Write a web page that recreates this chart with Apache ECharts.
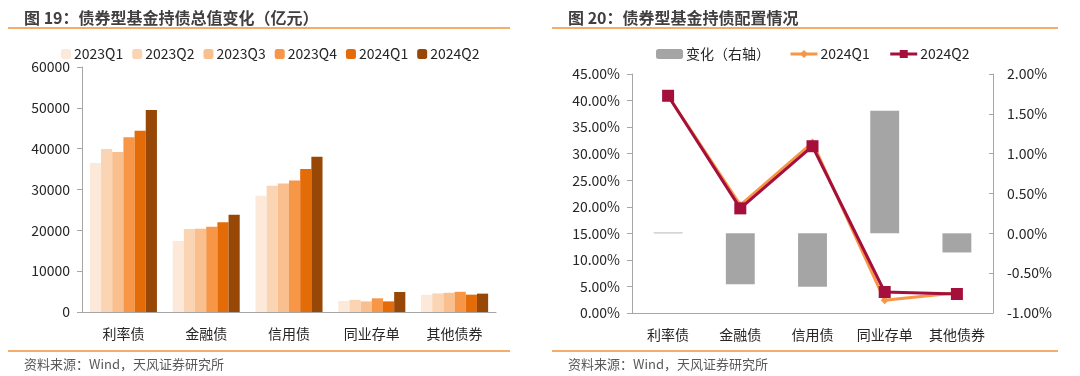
<!DOCTYPE html>
<html>
<head>
<meta charset="utf-8">
<script src="https://cdn.jsdelivr.net/npm/echarts@6/dist/echarts.min.js"></script>
<style>
  html, body { margin: 0; padding: 0; background: #fff; }
  #main { width: 1080px; height: 376px; }
</style>
</head>
<body>
<div id="main"></div>
<script>
// ========================================
// DATA
// ========================================

var categories = ['利率债', '金融债', '信用债', '同业存单', '其他债券'];

// 图19：持债总值（亿元）
var quarterNames = ['2023Q1', '2023Q2', '2023Q3', '2023Q4', '2024Q1', '2024Q2'];
var hold2023Q1 = [36500, 17400, 28500, 2700, 4200];
var hold2023Q2 = [39900, 20300, 30900, 3000, 4550];
var hold2023Q3 = [39200, 20400, 31500, 2600, 4700];
var hold2023Q4 = [42800, 20900, 32200, 3350, 4950];
var hold2024Q1 = [44400, 22000, 35000, 2600, 4250];
var hold2024Q2 = [49500, 23800, 38000, 4900, 4500];

// 图20：配置占比（%）
var share2024Q1 = [40.9, 20.3, 32.1, 2.4, 3.8];
var share2024Q2 = [40.9, 19.7, 31.4, 3.95, 3.58];
var shareChange = [0.01, -0.64, -0.67, 1.54, -0.24];

var leftTicks = { min: 0, max: 60000, interval: 10000 };
var shareTicks = { min: 0, max: 45, interval: 5 };
var changeTicks = { min: -1, max: 2, interval: 0.5 };

// ========================================
// STYLE
// ========================================

var FONT = '"Noto Sans CJK SC", "Noto Sans", sans-serif';
var quarterColors = ['#FDE9D9', '#FBD4B4', '#FABF8F', '#F79646', '#E36C09', '#974806'];
var axisGray = '#A6A6A6';
var textDark = '#262626';

var holdSeries = [hold2023Q1, hold2023Q2, hold2023Q3, hold2023Q4, hold2024Q1, hold2024Q2];

// the right chart's line series share names with the left bars, so they
// carry a trailing space to keep the two legends apart
var lineQ1Name = '2024Q1 ';
var lineQ2Name = '2024Q2 ';

function sepLine(x1, x2, y) {
  return {
    type: 'line',
    shape: { x1: x1, y1: y, x2: x2, y2: y },
    style: { stroke: '#F0923A', lineWidth: 1.5 },
    silent: true
  };
}

function pctLabel(v) {
  return v.toFixed(2) + '%';
}

var chart = echarts.init(document.getElementById('main'));

chart.setOption({
  animation: false,
  textStyle: { fontFamily: FONT },
  title: [
    { text: '图 19：债券型基金持债总值变化（亿元）', left: 19, top: 5,
      textStyle: { fontFamily: FONT, fontSize: 16, fontWeight: 'bold', color: '#404040' } },
    { text: '图 20：债券型基金持债配置情况', left: 563, top: 5,
      textStyle: { fontFamily: FONT, fontSize: 16, fontWeight: 'bold', color: '#404040' } },
    { text: '资料来源：Wind，天风证券研究所', left: 19, top: 353,
      textStyle: { fontFamily: FONT, fontSize: 13, fontWeight: 'normal', color: '#595959' } },
    { text: '资料来源：Wind，天风证券研究所', left: 563, top: 353,
      textStyle: { fontFamily: FONT, fontSize: 13, fontWeight: 'normal', color: '#595959' } }
  ],
  graphic: [
    sepLine(8, 510, 28),
    sepLine(552, 1058, 28),
    sepLine(8, 510, 351),
    sepLine(552, 1058, 351)
  ],
  legend: [
    {
      data: quarterNames,
      left: 56, top: 42,
      itemWidth: 10, itemHeight: 10, itemGap: 9,
      textStyle: { fontFamily: FONT, fontSize: 14, color: textDark, padding: [0, 0, 0, -2] }
    },
    {
      data: ['变化（右轴）', lineQ1Name, lineQ2Name],
      left: 651, top: 42,
      itemWidth: 27, itemHeight: 10, itemGap: 19,
      lineStyle: { width: 3 },
      formatter: function (n) { return n.trim(); },
      textStyle: { fontFamily: FONT, fontSize: 14, color: textDark, padding: [0, 0, 0, -2] }
    }
  ],
  grid: [
    { left: 82, top: 67, width: 414, height: 245 },
    { left: 632, top: 74, width: 361, height: 239 }
  ],
  xAxis: [
    {
      type: 'category', gridIndex: 0, data: categories,
      axisLine: { lineStyle: { color: axisGray } },
      axisTick: { lineStyle: { color: axisGray }, length: 5 },
      axisLabel: { fontFamily: FONT, fontSize: 14, color: textDark, margin: 15, interval: 0 }
    },
    {
      type: 'category', gridIndex: 1, data: categories,
      axisLine: { onZero: false, lineStyle: { color: axisGray } },
      axisTick: { lineStyle: { color: axisGray }, length: 5 },
      axisLabel: { fontFamily: FONT, fontSize: 14, color: textDark, margin: 15, interval: 0 }
    }
  ],
  yAxis: [
    {
      type: 'value', gridIndex: 0,
      min: leftTicks.min, max: leftTicks.max, interval: leftTicks.interval,
      splitLine: { show: false },
      axisLine: { show: true, lineStyle: { color: axisGray } },
      axisTick: { show: true, length: 5, lineStyle: { color: axisGray } },
      axisLabel: { fontFamily: FONT, fontSize: 14, color: textDark, margin: 12,
        formatter: function (v) { return String(v); } }
    },
    {
      type: 'value', gridIndex: 1, position: 'left',
      min: shareTicks.min, max: shareTicks.max, interval: shareTicks.interval,
      splitLine: { show: false },
      axisLine: { show: true, lineStyle: { color: axisGray } },
      axisTick: { show: true, length: 5, lineStyle: { color: axisGray } },
      axisLabel: { fontFamily: FONT, fontSize: 14, color: textDark, margin: 12, formatter: pctLabel }
    },
    {
      type: 'value', gridIndex: 1, position: 'right',
      min: changeTicks.min, max: changeTicks.max, interval: changeTicks.interval,
      splitLine: { show: false },
      axisLine: { show: true, lineStyle: { color: axisGray } },
      axisTick: { show: true, inside: true, length: 4, lineStyle: { color: axisGray } },
      axisLabel: { fontFamily: FONT, fontSize: 14, color: textDark, margin: 14, formatter: pctLabel }
    }
  ],
  series: quarterNames.map(function (name, i) {
    return {
      name: name,
      type: 'bar',
      xAxisIndex: 0, yAxisIndex: 0,
      data: holdSeries[i],
      barGap: '0%',
      barCategoryGap: '19%',
      itemStyle: { color: quarterColors[i] }
    };
  }).concat([
    {
      name: '变化（右轴）',
      type: 'bar',
      xAxisIndex: 1, yAxisIndex: 2,
      data: shareChange,
      barWidth: '40%',
      itemStyle: { color: '#A5A5A5' },
      z: 1
    },
    {
      name: lineQ1Name,
      type: 'line',
      xAxisIndex: 1, yAxisIndex: 1,
      data: share2024Q1,
      symbol: 'diamond', symbolSize: 8,
      lineStyle: { color: '#F79646', width: 3 },
      itemStyle: { color: '#F79646' },
      z: 3
    },
    {
      name: lineQ2Name,
      type: 'line',
      xAxisIndex: 1, yAxisIndex: 1,
      data: share2024Q2,
      symbol: 'rect', symbolSize: 12,
      lineStyle: { color: '#A50F3C', width: 3 },
      itemStyle: { color: '#A50F3C' },
      z: 4
    }
  ])
});
</script>
</body>
</html>
